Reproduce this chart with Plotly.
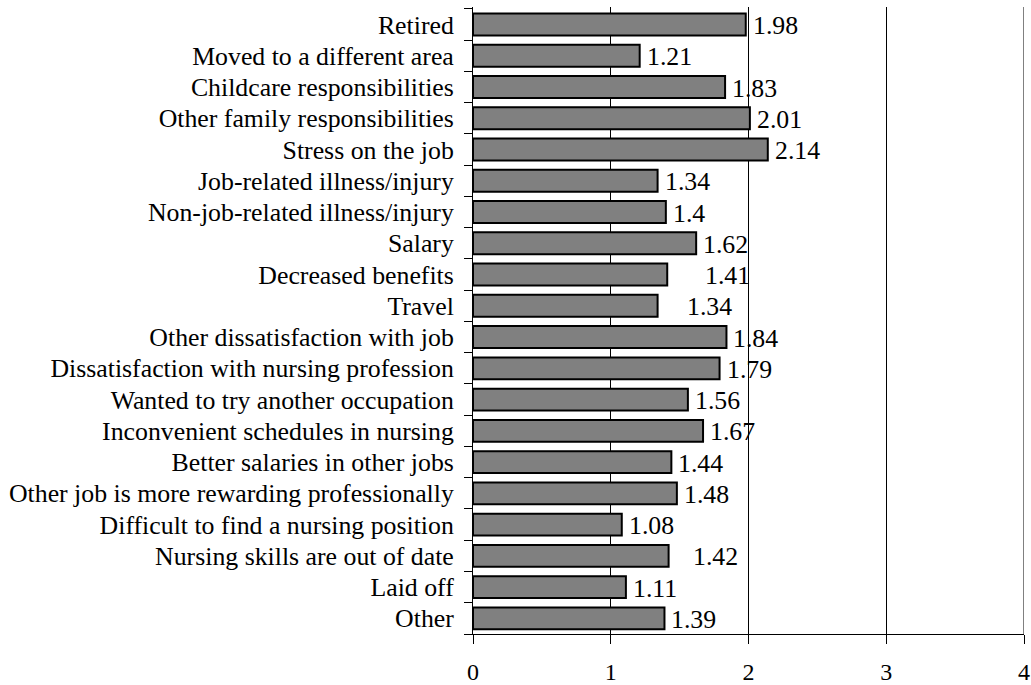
import plotly.graph_objects as go

# Reasons for leaving nursing, mean rating
reasons = [
    "Retired",
    "Moved to a different area",
    "Childcare responsibilities",
    "Other family responsibilities",
    "Stress on the job",
    "Job-related illness/injury",
    "Non-job-related illness/injury",
    "Salary",
    "Decreased benefits",
    "Travel",
    "Other dissatisfaction with job",
    "Dissatisfaction with nursing profession",
    "Wanted to try another occupation",
    "Inconvenient schedules in nursing",
    "Better salaries in other jobs",
    "Other job is more rewarding professionally",
    "Difficult to find a nursing position",
    "Nursing skills are out of date",
    "Laid off",
    "Other",
]
ratings = [1.98, 1.21, 1.83, 2.01, 2.14, 1.34, 1.4, 1.62, 1.41, 1.34,
           1.84, 1.79, 1.56, 1.67, 1.44, 1.48, 1.08, 1.42, 1.11, 1.39]
x_ticks = [0, 1, 2, 3, 4]

FONT = "Liberation Serif, Times New Roman, serif"
FS = 25.8

# a few labels sit further out from their bars
extra_shift = {"Decreased benefits": 31, "Travel": 22, "Nursing skills are out of date": 17}

fig = go.Figure(go.Bar(
    x=ratings,
    y=reasons,
    orientation="h",
    marker=dict(color="#808080", line=dict(color="black", width=2)),
    hoverinfo="skip",
))

for r, v in zip(reasons, ratings):
    fig.add_annotation(
        x=v, y=r, xref="x", yref="y",
        text=f"{v:g}", showarrow=False,
        xanchor="left", yanchor="middle",
        xshift=5 + extra_shift.get(r, 0), yshift=-1,
        font=dict(family=FONT, size=FS, color="black"),
    )

# gridline at the far end of the value axis
fig.add_shape(type="line", xref="x", yref="paper", x0=x_ticks[-1], x1=x_ticks[-1],
              y0=0, y1=1, line=dict(color="black", width=1))

fig.update_layout(
    width=1031, height=685,
    margin=dict(l=473, r=7, t=7, b=51),
    paper_bgcolor="white", plot_bgcolor="white",
    bargap=0.3,
    showlegend=False,
    font=dict(family=FONT, size=FS, color="black"),
)
fig.update_xaxes(
    range=[0, 4], tickmode="array", tickvals=x_ticks, ticktext=[str(t) for t in x_ticks],
    showgrid=True, gridcolor="black", gridwidth=1,
    showline=True, linecolor="black", linewidth=1,
    ticks="outside", ticklen=9, tickcolor="black",
    zeroline=False, ticklabelstandoff=7, ticklabeloverflow="allow",
    automargin=False,
    tickfont=dict(family=FONT, size=24, color="black"),
)
fig.update_yaxes(
    autorange="reversed", type="category",
    tickmode="array", tickvals=reasons, ticktext=reasons,
    showline=True, linecolor="black", linewidth=1,
    ticks="outside", ticklen=8, tickcolor="black", tickson="boundaries",
    showgrid=False, ticklabelstandoff=13, automargin=False,
    tickfont=dict(family=FONT, size=FS, color="black"),
)

fig.write_html("out.html")
